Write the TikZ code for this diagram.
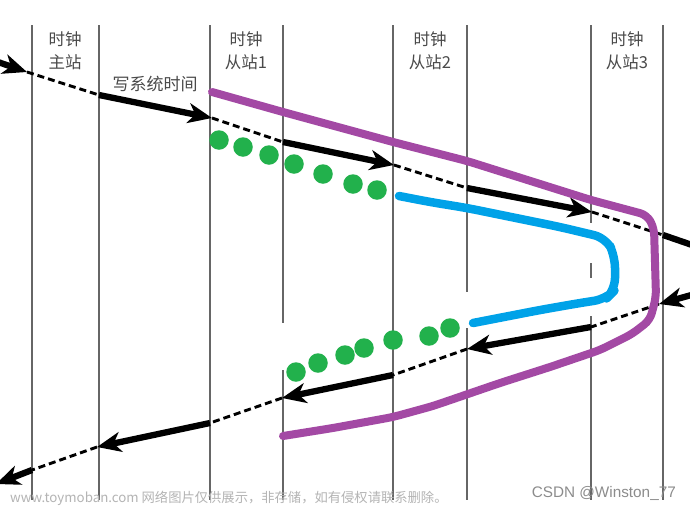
\documentclass[tikz,border=0pt]{standalone}
\usepackage{fontspec}
\setmainfont{Liberation Sans}
\newfontfamily\cjk{Noto Sans CJK SC}
\usetikzlibrary{arrows.meta}
\definecolor{vline}{HTML}{666666}
\definecolor{lbl}{HTML}{4A4A4A}
\definecolor{ppl}{HTML}{A349A4}
\definecolor{blu}{HTML}{00A2E8}
\definecolor{grn}{HTML}{22B14C}
\definecolor{wm}{HTML}{B4B4B4}
\definecolor{csdn}{HTML}{8C8C8C}
\begin{document}
\begin{tikzpicture}[x=1pt,y=-1pt,
  vl/.style={draw=vline,line width=1.8pt},
  thickarr/.style={line width=6.3pt,-{Stealth[length=24pt,width=20pt,inset=7pt]}},
  thickseg/.style={line width=6.3pt},
  dashseg/.style={line width=2.9pt,dash pattern=on 7pt off 4pt},
  gdot/.style={circle,fill=grn,inner sep=0pt,minimum size=19.5pt},
  lblnode/.style={text=lbl,align=center,font=\cjk\fontsize{16.5}{23}\selectfont,inner sep=0pt},
  pline/.style={draw=ppl,line width=8pt,line cap=round,line join=round,rounded corners=7pt},
  bline/.style={draw=blu,line width=8.5pt,line cap=round,line join=round,rounded corners=12pt}]
\useasboundingbox (0,0) rectangle (690,509);
\fill[white] (0,0) rectangle (690,509);

% vertical time lines
\draw[vl] (32,25) -- (32,500);
\draw[vl] (99,25) -- (99,500);
\draw[vl] (210,25) -- (210,500);
\draw[vl] (283,25) -- (283,323) (283,370) -- (283,500);
\draw[vl] (393,25) -- (393,500);
\draw[vl] (467,25) -- (467,292) (467,328) -- (467,500);
\draw[vl] (591,25) -- (591,223) (591,263) -- (591,278) (591,316) -- (591,500);
\draw[vl] (663,25) -- (663,500);

% labels
\node[lblnode] (master) at (65,50.5) {时钟\\主站};
\node[lblnode] (slave1) at (246,50.5) {时钟\\从站1};
\node[lblnode] (slave2) at (430,50.5) {时钟\\从站2};
\node[lblnode] (slave3) at (627,50.5) {时钟\\从站3};
\node[text=lbl,font=\cjk\fontsize{17}{20}\selectfont,inner sep=0pt] (write) at (155,84) {写系统时间};

% upper message line
\coordinate (U0) at (-5,61);
\coordinate (U1) at (27,72);
\coordinate (U2) at (99,95);
\coordinate (U3) at (212,118);
\coordinate (U4) at (283,142);
\coordinate (U5) at (394,165);
\coordinate (U6) at (467,188);
\coordinate (U7) at (592,212);
\coordinate (U8) at (663,235);
\coordinate (U9) at (695,246);
\draw[thickarr] (U0) -- (U1);
\draw[dashseg] (U1) -- (U2);
\draw[thickarr] (U2) -- (U3);
\draw[dashseg] (U3) -- (U4);
\draw[thickarr] (U4) -- (U5);
\draw[dashseg] (U5) -- (U6);
\draw[thickarr] (U6) -- (U7);
\draw[dashseg] (U7) -- (U8);
\draw[thickseg] (U8) -- (U9);

% lower message line
\coordinate (L0) at (695,294);
\coordinate (L1) at (659,304);
\coordinate (L2) at (591,327);
\coordinate (L3) at (467,349);
\coordinate (L4) at (393,375);
\coordinate (L5) at (282,398);
\coordinate (L6) at (210,423);
\coordinate (L7) at (97,447);
\coordinate (L8) at (32,470);
\coordinate (L9) at (-4,484);
\draw[thickarr] (L0) -- (L1);
\draw[dashseg] (L1) -- (L2);
\draw[thickarr] (L2) -- (L3);
\draw[dashseg] (L3) -- (L4);
\draw[thickarr] (L4) -- (L5);
\draw[dashseg] (L5) -- (L6);
\draw[thickarr] (L6) -- (L7);
\draw[dashseg] (L7) -- (L8);
\draw[thickarr] (L8) -- (L9);

% purple outer loop
\draw[pline] (212,92) -- (283,112) -- (393,142) -- (467,161) -- (591,200) -- (647,215) -- (654,228) -- (656,297) -- (650,320) -- (632,334) -- (600,350) -- (550,367) -- (500,383) -- (433,406) -- (393,417) -- (333,428) -- (283,436);

% blue inner loop
\draw[bline] (399,196) -- (430,202) -- (467,208) -- (560,227) -- (606,238) -- (615,256) -- (615,290) -- (606,299) -- (580,303) -- (540,310) -- (473,323);

% green dots
\node[gdot] (g1) at (219,140) {};
\node[gdot] (g2) at (243,147) {};
\node[gdot] (g3) at (269,155) {};
\node[gdot] (g4) at (294,164) {};
\node[gdot] (g5) at (323,174) {};
\node[gdot] (g6) at (353,184) {};
\node[gdot] (g7) at (377,190) {};
\node[gdot] (h1) at (296,372) {};
\node[gdot] (h2) at (318,363) {};
\node[gdot] (h3) at (345,355) {};
\node[gdot] (h4) at (364,348) {};
\node[gdot] (h5) at (393,340) {};
\node[gdot] (h6) at (429,336) {};
\node[gdot] (h7) at (450,328) {};

% watermarks
\node[anchor=west,text=wm,font=\cjk\fontsize{13.3}{15}\selectfont,inner sep=0pt] (wmk) at (10,498) {www.toymoban.com 网络图片仅供展示，非存储，如有侵权请联系删除。};
\node[anchor=east,text=csdn,font=\fontsize{15.3}{17}\selectfont,inner sep=0pt] (author) at (676,493) {CSDN @Winston\_77};
\end{tikzpicture}
\end{document}
